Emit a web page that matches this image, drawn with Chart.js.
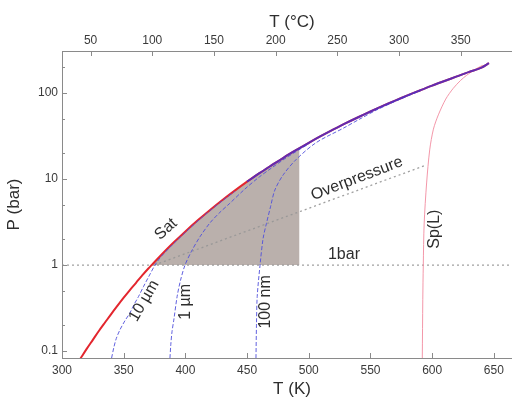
<!DOCTYPE html>
<html><head><meta charset="utf-8">
<script src="https://cdn.jsdelivr.net/npm/chart.js@4"></script>
<style>html,body{margin:0;padding:0;background:#fff;overflow:hidden;width:512px;height:401px}canvas{display:block}</style>
</head><body>
<canvas id="c" width="522" height="401"></canvas>
<script>
// ---- axis ranges & tick labels ----
const xMinK = 300, xMaxK = 672.8;
const yMin = 0.083, yMax = 308;
const bottomTicksK = [300, 350, 400, 450, 500, 550, 600, 650];
const topTicksC = [50, 100, 150, 200, 250, 300, 350];
const yMajorTicks = [0.1, 1, 10, 100];
const yMinorTicks = [0.2, 0.5, 2, 5, 20, 50, 200];

// ---- saturation curve (T in K, P in bar) ----
const satT = [315,320,325,330,335,340,345,350,355,360,365,370,373,380,390,400,410,420,430,440,450,460,470,480,490,500,510,520,530,540,550,560,570,580,590,600,610,620,630,640,646];
const satP = [0.082,0.106,0.135,0.172,0.216,0.271,0.337,0.417,0.512,0.621,0.757,0.911,1.01,1.29,1.80,2.46,3.31,4.37,5.70,7.33,9.32,11.7,14.5,17.9,21.8,26.4,31.7,37.7,44.6,52.3,61.0,70.8,81.7,93.8,107,122,138,156,176,197,222];

// ---- pore-size curves ----
const um10T = [340.2,342,344,347,351,355,358.5,362,366,370,375.4,380,390,400,415,430,440];
const um10P = [0.083,0.11,0.14,0.177,0.225,0.277,0.35,0.43,0.56,0.72,1.0,1.24,1.75,2.40,3.75,5.6,7.2];
const um1T = [387.5,388.2,389.2,390.6,393.3,396,399.7,405,411.8,420,428,436,448,460,470,480,490,500];
const um1P = [0.083,0.12,0.17,0.229,0.43,0.66,1.0,1.45,2.13,3.1,4.1,5.22,7.6,10.6,13.5,17.0,21.0,25.6];
const nm100T = [457.2,457.6,458.2,460.5,463,465.7,469,472.5,479.3,490,506,528,541.5,555,570,590];
const nm100P = [0.083,0.2,0.43,1.0,2.05,3.05,4.76,7.44,11.2,17.0,26.5,39.0,50.0,63.5,80,106];

// ---- liquid spinodal ----
const spT = [592,592.4,592.8,593.5,595.5,598,601,605,611,617,623,628,636,641];
const spP = [0.083,0.4,1.0,3.0,9.0,21.8,38,55.7,85,113,140,161,193,210];

// ---- overpressure line & 1 bar line ----
const opT = [375, 595];
const opP = [1.0, 14.5];
const oneBarP = 1;

// ---- shaded region edges ----
const shadeStartT = 373, shadeEndT = 492.5, shadeEndTopP = 22.7;

const pts = (xs, ys) => xs.map((v, i) => ({x: v, y: ys[i]}));
const shadePts = [{x: shadeStartT, y: 1.01}]
  .concat(pts(satT, satP).filter(p => p.x > shadeStartT && p.x < shadeEndT))
  .concat([{x: shadeEndT, y: shadeEndTopP}, {x: shadeEndT, y: oneBarP}]);
const overlayPts = pts(satT, satP).filter(p => p.x >= 450);

const annotations = [
  {text: 'Sat', T: 384.3, P: 2.61, angle: -42},
  {text: '10 µm', T: 366.5, P: 0.383, angle: -60},
  {text: '1 µm', T: 400.5, P: 0.373, angle: -90},
  {text: '100 nm', T: 465.3, P: 0.373, angle: -90},
  {text: 'Sp(L)', T: 602.3, P: 2.61, angle: -90},
  {text: 'Overpressure', T: 539, P: 10.1, angle: -21},
  {text: '1bar', T: 528.5, P: 1.34, angle: 0}
];

const FONT = "'Liberation Sans', Arial, Helvetica, sans-serif";
Chart.defaults.font.family = FONT;
Chart.defaults.color = '#3a3a3a';

const decor = {
  id: 'decor',
  afterDatasetsDraw(chart) {
    const ctx = chart.ctx, x = chart.scales.x, y = chart.scales.y, xt = chart.scales.xTop, a = chart.chartArea;
    ctx.save();
    ctx.strokeStyle = '#8a8a8a';
    ctx.lineWidth = 1;
    ctx.beginPath();
    bottomTicksK.forEach(v => { const p = Math.round(x.getPixelForValue(v)) + 0.5; ctx.moveTo(p, a.bottom); ctx.lineTo(p, a.bottom - 5); });
    topTicksC.forEach(v => { const p = Math.round(xt.getPixelForValue(v)) + 0.5; ctx.moveTo(p, a.top); ctx.lineTo(p, a.top + 5); });
    yMajorTicks.forEach(v => { const p = Math.round(y.getPixelForValue(v)) + 0.5; ctx.moveTo(a.left, p); ctx.lineTo(a.left + 5, p); });
    yMinorTicks.forEach(v => { const p = Math.round(y.getPixelForValue(v)) + 0.5; ctx.moveTo(a.left, p); ctx.lineTo(a.left + 3, p); });
    ctx.stroke();
    ctx.fillStyle = '#2e2e2e';
    ctx.font = '16px ' + FONT;
    ctx.textAlign = 'center';
    ctx.textBaseline = 'middle';
    annotations.forEach(an => {
      ctx.save();
      ctx.translate(x.getPixelForValue(an.T), y.getPixelForValue(an.P));
      ctx.rotate(an.angle * Math.PI / 180);
      ctx.fillText(an.text, 0, 0);
      ctx.restore();
    });
    ctx.restore();
  }
};

const line = (data, color, width, dash, order, extra) => Object.assign({
  data, showLine: true, borderColor: color, borderWidth: width, borderDash: dash,
  pointRadius: 0, fill: false, order, tension: 0.3
}, extra || {});

new Chart(document.getElementById('c'), {
  type: 'scatter',
  data: {
    datasets: [
      line(shadePts, 'rgba(0,0,0,0)', 0, [], 9, {fill: {value: oneBarP}, backgroundColor: '#bab0ac', tension: 0}),
      line([{x: xMinK, y: oneBarP}, {x: xMaxK, y: oneBarP}], 'rgba(150,150,150,0.9)', 1.3, [2, 3], 8, {tension: 0}),
      line(pts(opT, opP), 'rgba(150,150,150,0.9)', 1.3, [2, 3], 8, {tension: 0}),
      line(pts(spT, spP), 'rgba(242,140,160,0.9)', 1, [], 6),
      line(pts(satT, satP), '#e3262e', 2, [], 5),
      line(pts(um10T, um10P), 'rgba(80,80,220,0.9)', 1, [4, 2], 3),
      line(pts(um1T, um1P), 'rgba(80,80,220,0.9)', 1, [4, 2], 3),
      line(pts(nm100T, nm100P), 'rgba(80,80,220,0.9)', 1, [4, 2], 3),
      line(overlayPts, 'rgba(75,45,200,0.85)', 2, [], 1)
    ]
  },
  options: {
    responsive: false,
    animation: false,
    events: [],
    layout: {padding: 0},
    plugins: {legend: {display: false}, tooltip: {enabled: false}},
    scales: {
      x: {
        type: 'linear', position: 'bottom', min: xMinK, max: xMaxK,
        afterBuildTicks: s => { s.ticks = bottomTicksK.map(v => ({value: v})); },
        afterFit: s => { s.height = 43; },
        grid: {drawOnChartArea: false, drawTicks: false},
        border: {display: true, color: '#8a8a8a', width: 1},
        ticks: {padding: 5, font: {size: 12}, color: '#3a3a3a', maxRotation: 0, callback: v => String(v)},
        title: {display: true, text: 'T (K)', font: {size: 17}, color: '#2e2e2e', padding: {top: 0, bottom: 1}}
      },
      xTop: {
        type: 'linear', position: 'top', min: xMinK - 273.15, max: xMaxK - 273.15,
        afterBuildTicks: s => { s.ticks = topTicksC.map(v => ({value: v})); },
        afterFit: s => { s.height = 51; },
        grid: {drawOnChartArea: false, drawTicks: false},
        border: {display: true, color: '#8a8a8a', width: 1},
        ticks: {padding: 3, font: {size: 12}, color: '#3a3a3a', maxRotation: 0, callback: v => String(v)},
        title: {display: true, text: 'T (°C)', font: {size: 17}, color: '#2e2e2e', padding: {top: 12, bottom: 12}}
      },
      y: {
        type: 'logarithmic', position: 'left', min: yMin, max: yMax,
        afterBuildTicks: s => { s.ticks = yMajorTicks.map(v => ({value: v})); },
        afterFit: s => { s.width = 62; },
        grid: {drawOnChartArea: false, drawTicks: false},
        border: {display: true, color: '#8a8a8a', width: 1},
        ticks: {padding: 4, font: {size: 12}, color: '#3a3a3a', callback: v => String(v)},
        title: {display: true, text: 'P (bar)', font: {size: 17}, color: '#2e2e2e', padding: {top: 4, bottom: 4}}
      }
    }
  },
  plugins: [decor]
});
</script>
</body></html>
